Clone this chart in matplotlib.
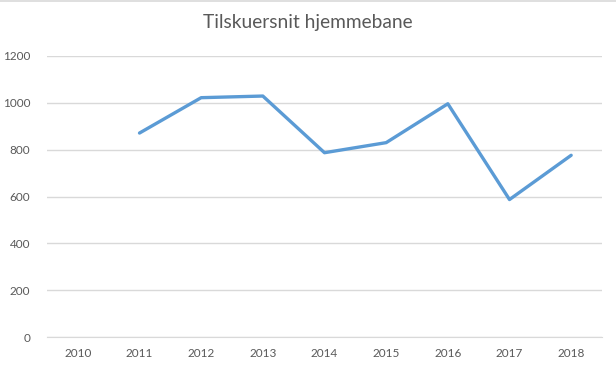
import numpy as np
import matplotlib.pyplot as plt
from matplotlib.lines import Line2D

plt.rcParams['font.family'] = ['Lato', 'DejaVu Sans']

years = ['2010', '2011', '2012', '2013', '2014', '2015', '2016', '2017', '2018']
tilskuere = [np.nan, 871, 1022, 1029, 787, 830, 996, 587, 776]
yticks = [0, 200, 400, 600, 800, 1000, 1200]

fig = plt.figure(figsize=(6.16, 3.69), dpi=100)
ax = fig.add_axes([47/616, 32/369, 555/616, 281/369])

x = np.arange(len(years))
ax.plot(x, tilskuere, color='#5b9bd5', linewidth=2.4, solid_capstyle='round')

ax.set_xlim(-0.5, len(years) - 0.5)
ax.set_ylim(0, 1200)
ax.set_xticks(x)
ax.set_xticklabels(years)
ax.set_yticks(yticks)
ax.tick_params(length=0, labelsize=8.5, colors='#595959')
ax.tick_params(axis='y', pad=12)
ax.tick_params(axis='x', pad=8)
ax.grid(axis='y', color='#d9d9d9', linewidth=1)
ax.set_axisbelow(True)
for s in ['top', 'right', 'left']:
    ax.spines[s].set_visible(False)
ax.spines['bottom'].set_color('#d9d9d9')

fig.text(0.5, 0.94, 'Tilskuersnit hjemmebane', ha='center', va='center',
         fontsize=13.8, color='#595959')

# thin border line along the top edge
fig.add_artist(Line2D([0, 1], [0.997, 0.997], transform=fig.transFigure,
                      color='#d9d9d9', linewidth=1.2))

fig.savefig('out.png', dpi=100)
